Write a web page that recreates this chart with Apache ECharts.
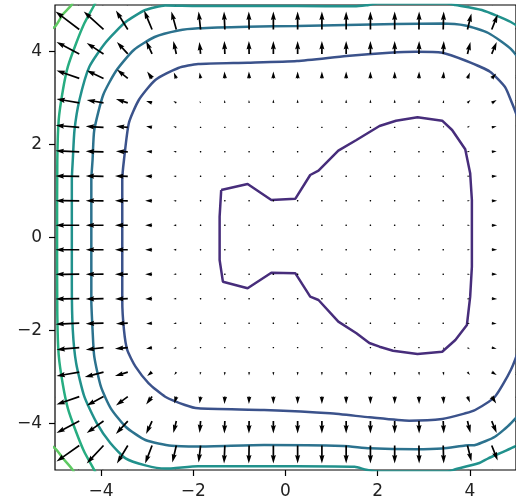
<!doctype html>
<html lang="en">
<head>
    <meta charset="UTF-8">
    <script src="https://cdn.jsdelivr.net/npm/echarts@6/dist/echarts.min.js"></script>
    <title>Contour and gradient field</title>
    <style>
        html, body { margin: 0; padding: 0; background: #fff; }
        #main { width: 516px; height: 504px; }
    </style>
</head>
<body>
<div id="main"></div>
<script type="text/javascript">
    // tick positions shown on both axes
    var tickValues = [-4, -2, 0, 2, 4];

    // quiver grid (20 x 20), rows listed from top (y = 5) to bottom (y = -5)
    var gridX = [-5, -4.4737, -3.9474, -3.4211, -2.8947, -2.3684, -1.8421, -1.3158, -0.7895, -0.2632,
                 0.2632, 0.7895, 1.3158, 1.8421, 2.3684, 2.8947, 3.4211, 3.9474, 4.4737, 5];
    var gridY = [5, 4.4737, 3.9474, 3.4211, 2.8947, 2.3684, 1.8421, 1.3158, 0.7895, 0.2632,
                 -0.2632, -0.7895, -1.3158, -1.8421, -2.3684, -2.8947, -3.4211, -3.9474, -4.4737, -5];

    // x component of the arrows, one row per gridY value
    var U = [
        [-26, -24, -20, -13, -8, -5, -2, -1, 0, 0, 0, 0, 0, 0, 0, 0, 0.5, 4, 6, 9],
        [-26, -24, -20, -12, -8, -5, -2, -0.8, -0.3, 0, 0, 0, 0, 0, 0, 0.2, 0.5, 4, 6, 9],
        [-27, -23, -17, -11, -6, -3, -1.2, -0.5, -0.2, 0, 0, 0, 0, 0, 0, 0.2, 0.6, 3, 5, 8],
        [-28, -23, -17, -11, -5, -2.5, -1, -0.4, -0.2, 0, 0, 0, 0, 0, 0, 0.2, 0.6, 2.5, 4.5, 8],
        [-29, -23, -17, -12, -6, -3, -1, -0.4, -0.2, 0, 0, 0, 0, 0, 0.1, 0.3, 0.8, 3, 5, 8],
        [-30, -24, -18, -12, -6, -3, -1, -0.5, -0.2, 0, 0, 0, 0, 0, 0.1, 0.4, 1, 2.5, 5, 8],
        [-30, -24, -18, -12, -6, -3, -1, -0.5, -0.2, -0.1, 0, 0, 0, 0, 0.1, 0.4, 1, 2.5, 5, 8],
        [-30, -24, -18, -13, -7, -3, -1.2, -0.5, -0.2, -0.1, 0, 0, 0, 0, 0.1, 0.4, 1, 2.5, 5.5, 8],
        [-30, -24, -18, -13, -7, -3, -1.2, -0.5, -0.2, -0.1, 0, 0, 0, 0, 0.1, 0.4, 1, 2.5, 5.5, 8],
        [-30, -24, -18, -13, -7, -3, -1.2, -0.5, -0.2, -0.1, 0, 0, 0, 0, 0.1, 0.4, 1, 2.5, 5.5, 8],
        [-30, -24, -18, -13, -7, -3, -1.2, -0.5, -0.2, -0.1, 0, 0, 0, 0, 0.1, 0.4, 1, 2.5, 5.5, 8],
        [-30, -24, -18, -13, -7, -3, -1.2, -0.5, -0.2, -0.1, 0, 0, 0, 0, 0.1, 0.4, 1, 2.5, 5.5, 8],
        [-30, -24, -18, -13, -7, -3, -1.2, -0.5, -0.2, -0.1, 0, 0, 0, 0, 0.1, 0.4, 1, 2.5, 5.5, 8],
        [-30, -24, -18, -12, -6, -3, -1, -0.5, -0.2, -0.1, 0, 0, 0, 0, 0.1, 0.4, 1, 2.5, 5, 8],
        [-30, -23, -18, -13, -6, -3, -1, -0.5, -0.2, 0, 0, 0, 0, 0, 0.1, 0.4, 1, 2.5, 5, 8],
        [-29, -23, -19, -13, -5, -2, -0.6, -0.3, -0.1, 0, 0, 0, 0, 0, 0.1, 0.3, 0.8, 2.5, 5, 8],
        [-28, -23, -17, -12, -6, -2, -1, -0.4, -0.2, 0, 0, 0, 0, 0, 0, 0.2, 0.6, 2.5, 4.5, 8],
        [-27, -23, -17, -12, -6, -3, -1, -0.5, -0.2, 0, 0, 0, 0, 0, 0, 0.2, 0.6, 3, 5, 8],
        [-26, -23, -17, -11, -7, -4, -2, -0.8, -0.3, 0, 0, 0, 0, 0, 0, 0.2, 0.5, 4, 6, 9],
        [-26, -23, -17, -11, -7, -4, -2, -1, 0, 0, 0, 0, 0, 0, 0, 0, 0.5, 4, 6, 9]
    ];

    // y component of the arrows
    var V = [
        [22, 22, 22, 22, 22, 22, 22, 22, 22, 22, 22, 22, 22, 22, 22, 22, 22, 20, 19, 18],
        [18, 18, 18, 19, 19, 18, 18, 18, 18, 18, 18, 18, 18, 18, 18, 18, 18, 16, 15, 14],
        [12, 12, 11, 12, 13, 13, 12, 13, 13, 13, 13, 13, 13, 13, 13, 13, 13, 12, 12, 11],
        [8, 8, 8, 9, 7, 6, 6, 7, 7, 7, 7, 7, 7, 7, 7, 7, 7, 6, 5, 5],
        [4, 4, 3, 4, 2, 2, 2, 3, 3, 3.5, 3.5, 3.5, 3.5, 3.5, 3.5, 3.5, 3, 3, 3, 3],
        [2, 2, 1, 1, 1, 1, 1, 1.2, 1.5, 1.5, 1.5, 1.5, 1.5, 1.5, 1.5, 1.5, 1.5, 1.5, 1, 1],
        [1, 1, 0.5, 0.5, 0.5, 0.5, 0.5, 0.5, 0.6, 0.6, 0.6, 0.6, 0.6, 0.6, 0.6, 0.6, 0.6, 0.5, 0.5, 0.5],
        [0.3, 0.3, 0.3, 0.3, 0.3, 0.3, 0.3, 0.3, 0.3, 0.3, 0.3, 0.3, 0.3, 0.3, 0.3, 0.3, 0.3, 0.3, 0.3, 0.3],
        [0.1, 0.1, 0.1, 0.1, 0.1, 0.1, 0.1, 0.1, 0.1, 0.1, 0.1, 0.1, 0.1, 0.1, 0.1, 0.1, 0.1, 0.1, 0.1, 0.1],
        [0, 0, 0, 0, 0, 0, 0, 0, 0, 0, 0, 0, 0, 0, 0, 0, 0, 0, 0, 0],
        [0, 0, 0, 0, 0, 0, 0, 0, 0, 0, 0, 0, 0, 0, 0, 0, 0, 0, 0, 0],
        [-0.1, -0.1, -0.1, -0.1, -0.1, -0.1, -0.1, -0.1, -0.1, -0.1, -0.1, -0.1, -0.1, -0.1, -0.1, -0.1, -0.1, -0.1, -0.1, -0.1],
        [-0.3, -0.3, -0.3, -0.3, -0.3, -0.3, -0.3, -0.3, -0.3, -0.3, -0.3, -0.3, -0.3, -0.3, -0.3, -0.3, -0.3, -0.3, -0.3, -0.3],
        [-1, -1, -0.5, -0.5, -0.5, -0.5, -0.5, -0.5, -0.6, -0.6, -0.6, -0.6, -0.6, -0.6, -0.6, -0.6, -0.6, -0.5, -0.5, -0.5],
        [-2, -2, -2, -1, -1, -1, -1, -1.2, -1.5, -1.5, -1.5, -1.5, -1.5, -1.5, -1.5, -1.5, -1.5, -1.5, -1, -1],
        [-4, -4, -5, -4, -4, -3, -3, -3.5, -3.5, -3.5, -3.5, -3.5, -3.5, -3.5, -3.5, -3.5, -3.5, -3, -3, -3],
        [-8, -8, -9, -9, -8, -7, -7, -7.5, -7.5, -7.5, -7.5, -7.5, -7.5, -7.5, -7.5, -7.5, -7.5, -6, -7, -6],
        [-12, -12, -12, -13, -13, -12, -12, -12.5, -12.5, -12.5, -12.5, -12.5, -12.5, -12.5, -12.5, -12.5, -12.5, -12, -12, -11],
        [-17, -16, -18, -18, -18, -17, -17, -18, -18, -18, -18, -18, -18, -18, -18, -18, -18, -16, -15, -14],
        [-22, -22, -22, -22, -22, -22, -22, -22, -22, -22, -22, -22, -22, -22, -22, -22, -22, -20, -19, -18]
    ];

    // contour lines, innermost first (points outside +-5 are clipped away)
    var levelF = [[-1.395, 1.02], [-0.822, 1.15], [-0.307, 0.806], [0.215, 0.835], [0.536, 1.344], [0.716, 1.437],
        [1.146, 1.867], [1.539, 2.097], [2.039, 2.398], [2.397, 2.512], [2.863, 2.585], [3.399, 2.512],
        [3.614, 2.312], [3.899, 1.897], [4.006, 1.38], [4.043, 0.806], [4.043, 0.09], [4.043, -0.628],
        [4.006, -1.273], [3.935, -1.882], [3.685, -2.204], [3.399, -2.456], [2.863, -2.505], [2.333, -2.434],
        [2.039, -2.348], [1.818, -2.269], [1.539, -2.06], [1.146, -1.81], [0.716, -1.344], [0.536, -1.273],
        [0.215, -0.77], [-0.307, -0.757], [-0.822, -1.093], [-1.358, -0.95], [-1.429, -0.484], [-1.429, 0.447],
        [-1.395, 1.02]];
    var levelE = [[-3.541, 0], [-3.541, 1.237], [-3.504, 1.667], [-3.397, 2.462], [-3.182, 2.957], [-2.824, 3.387],
        [-2.324, 3.645], [-1.895, 3.731], [-0.822, 3.759], [0.251, 3.796], [1.324, 3.903], [2.253, 3.974],
        [2.826, 3.996], [3.399, 3.974], [3.899, 3.806], [4.436, 3.566], [4.758, 3.243], [4.887, 2.957],
        [5.05, 2.5], [5.15, 0], [5.05, -2.4], [4.887, -2.849], [4.543, -3.424], [4.114, -3.71], [3.899, -3.781],
        [3.399, -3.903], [2.682, -3.94], [1.824, -3.867], [0.966, -3.781], [-0.464, -3.71], [-1.895, -3.673],
        [-2.18, -3.602], [-2.609, -3.424], [-2.968, -3.135], [-3.253, -2.778], [-3.433, -2.419], [-3.504, -1.989],
        [-3.541, -1.344], [-3.541, 0]];
    var levelD = [[-4.212, 0], [-4.212, 1.237], [-4.185, 1.667], [-4.148, 2.312], [-3.955, 3.065], [-3.676, 3.581],
        [-3.29, 4.032], [-2.839, 4.312], [-2.324, 4.452], [-1.895, 4.499], [-0.822, 4.533], [0.251, 4.548],
        [1.324, 4.57], [2.397, 4.591], [3.399, 4.602], [3.899, 4.559], [4.399, 4.398], [4.887, 4.054],
        [5.2, 3.6], [5.3, 0], [5.2, -3.6], [4.887, -3.996], [4.543, -4.284], [4.114, -4.462], [3.899, -4.473],
        [3.399, -4.538], [2.826, -4.555], [1.824, -4.533], [1.253, -4.484], [-0.464, -4.462], [-1.895, -4.495],
        [-2.468, -4.48], [-3.039, -4.355], [-3.468, -4.069], [-3.79, -3.673], [-4.004, -3.209], [-4.148, -2.563],
        [-4.185, -1.989], [-4.212, -1.344], [-4.212, 0]];
    var levelC = [[-4.635, 0], [-4.635, 1.237], [-4.614, 1.667], [-4.577, 2.312], [-4.47, 2.957], [-4.255, 3.673],
        [-3.897, 4.2], [-3.468, 4.634], [-3.039, 4.892], [-2.609, 4.99], [-1.895, 4.978], [0.251, 4.978],
        [1.5, 4.972], [1.75, 4.995], [2.0, 5.03], [3.5, 5.03], [3.684, 5.0], [4.258, 4.892], [4.887, 4.634],
        [5.3, 4.3], [5.4, 0], [5.3, -4.3], [4.887, -4.533], [4.399, -4.748], [4.185, -4.856], [3.684, -4.985],
        [3.5, -5.03], [2.0, -5.03], [1.75, -4.995], [1.5, -4.93], [0.251, -4.918], [-1.895, -4.918],
        [-2.609, -4.97], [-3.039, -4.9], [-3.468, -4.75], [-3.8, -4.42], [-4.1, -3.98], [-4.363, -3.424],
        [-4.541, -2.705], [-4.614, -1.989], [-4.635, -1.0], [-4.635, 0]];
    var levelB = [[-4.0, 5.3], [-4.148, 5.0], [-4.363, 4.606], [-4.541, 4.176], [-4.721, 3.673], [-4.828, 3.172],
        [-4.92, 2.527], [-4.95, 1.667], [-4.955, 0], [-4.95, -1.667], [-4.92, -2.527], [-4.828, -3.172],
        [-4.721, -3.673], [-4.541, -4.183], [-4.363, -4.613], [-4.148, -5.0], [-4.0, -5.3]];
    var levelA = [[-5.3, 4.4], [-5.006, 4.53], [-4.83, 4.8], [-4.642, 5.0], [-4.5, 5.3], [-5.5, 5.5], [-5.5, -5.5],
        [-4.5, -5.3], [-4.614, -5.0], [-4.828, -4.748], [-5.006, -4.527], [-5.3, -4.4]];

    var contours = [levelF, levelE, levelD, levelC, levelB, levelA];
    var contourColors = ['#472d7b', '#3b528b', '#2c728e', '#21918c', '#27ad81', '#5ec962'];

    // one arrow unit is one pixel at this axis size (46.6 px per data unit)
    var ARROW_SCALE = 1 / 46.6;

    var quiverData = [];
    for (var r = 0; r < gridY.length; r++) {
        for (var k = 0; k < gridX.length; k++) {
            quiverData.push([gridX[k], gridY[r], U[r][k], V[r][k]]);
        }
    }

    // matplotlib-like arrow: shaft width W, head 3W wide, 5W long; short ones shrink, tiny ones are dots
    function renderArrow(params, api) {
        var x = api.value(0), y = api.value(1);
        var p0 = api.coord([x, y]);
        var p1 = api.coord([x + api.value(2) * ARROW_SCALE, y + api.value(3) * ARROW_SCALE]);
        var dx = p1[0] - p0[0], dy = p1[1] - p0[1];
        var L = Math.sqrt(dx * dx + dy * dy);
        var W = 1.7, HL = 5 * W, HAL = 4.5 * W, HW = 1.5 * W;
        var pts = [];
        if (L < W) {
            for (var i = 0; i < 6; i++) {
                var t = i * Math.PI / 3;
                pts.push([p0[0] + Math.cos(t) * W * 0.5, p0[1] + Math.sin(t) * W * 0.5]);
            }
        } else {
            var s = L < HL ? L / HL : 1;
            var len = L < HL ? HL : L;
            var local = [[0, W / 2], [len - HAL, W / 2], [len - HL, HW], [len, 0],
                [len - HL, -HW], [len - HAL, -W / 2], [0, -W / 2]];
            var c = dx / L, sn = dy / L;
            pts = local.map(function (p) {
                var lx = p[0] * s, ly = p[1] * s;
                return [p0[0] + lx * c - ly * sn, p0[1] + lx * sn + ly * c];
            });
        }
        return { type: 'polygon', shape: { points: pts }, style: { fill: '#000' } };
    }

    function minusLabel(v) {
        return String(v).replace('-', '\u2212');
    }

    var axisCommon = {
        type: 'value',
        min: -5,
        max: 5,
        axisLine: { show: false, onZero: false },
        splitLine: { show: false },
        axisTick: { show: true, length: 6, customValues: tickValues, lineStyle: { color: '#000', width: 1.2 } },
        axisLabel: {
            customValues: tickValues, margin: 13, fontSize: 17, color: '#222',
            fontFamily: 'DejaVu Sans', formatter: minusLabel
        }
    };

    var series = contours.map(function (pts, i) {
        return {
            type: 'line',
            data: pts,
            showSymbol: false,
            symbol: 'none',
            smooth: i === 0 ? false : 0.2,
            clip: true,
            z: 2,
            lineStyle: { color: contourColors[i], width: 2.5 }
        };
    });
    series.push({
        type: 'custom',
        data: quiverData,
        renderItem: renderArrow,
        clip: true,
        z: 3
    });

    var myChart = echarts.init(document.getElementById('main'));
    myChart.setOption({
        animation: false,
        backgroundColor: '#fff',
        grid: { left: 55, top: 5, width: 466, height: 465, show: true, borderColor: '#000', borderWidth: 1.2 },
        xAxis: axisCommon,
        yAxis: axisCommon,
        series: series
    });
</script>
</body>
</html>
